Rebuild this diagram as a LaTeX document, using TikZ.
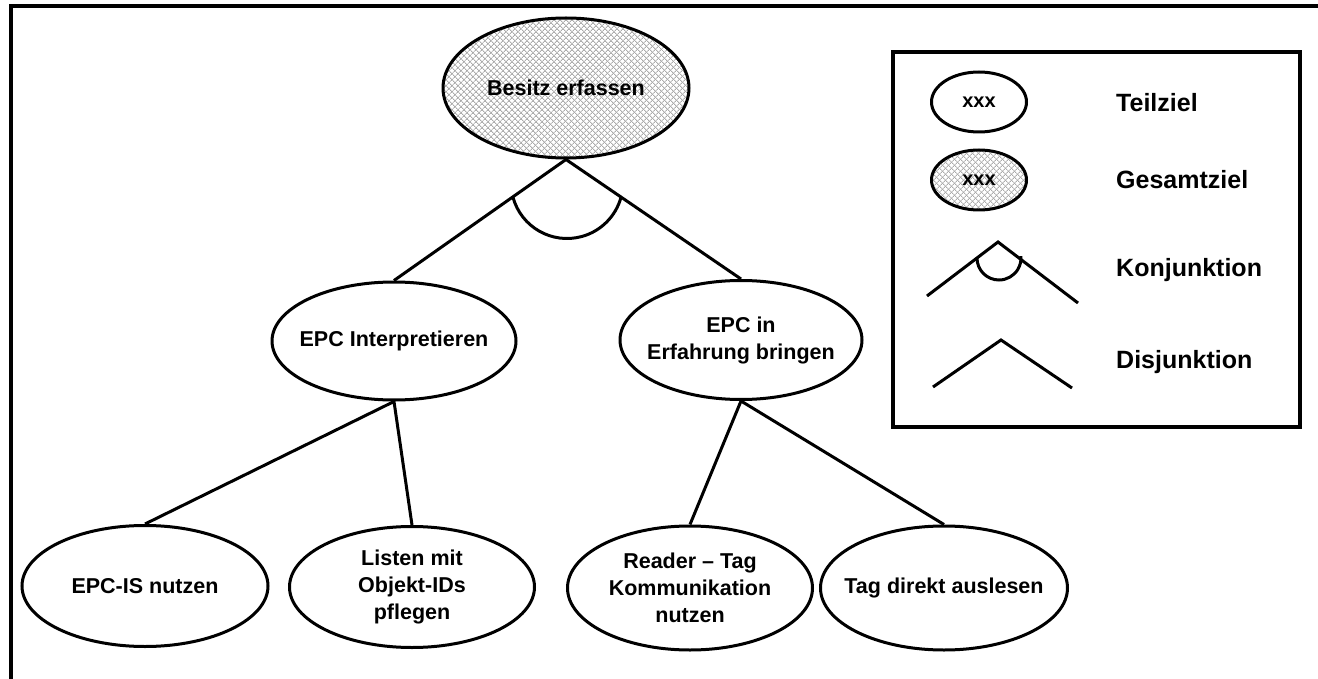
\documentclass[tikz,border=0pt]{standalone}
\usepackage{fontspec}
\setmainfont{Liberation Sans}
\usetikzlibrary{shapes.geometric,patterns.meta,calc}
\begin{document}
\begin{tikzpicture}[x=1pt,y=-1pt,
  goal/.style={ellipse,draw,line width=3pt,fill=white,inner sep=0pt},
  goaltext/.style={align=center,inner sep=0pt,
    font=\fontsize{21.5}{27}\selectfont\bfseries},
  hatched/.style={fill=none,
    preaction={fill=white},
    preaction={pattern={Lines[angle=45,distance=4pt,line width=1pt]},pattern color=gray!65},
    preaction={pattern={Lines[angle=-45,distance=4pt,line width=1pt]},pattern color=gray!65}},
  link/.style={line width=3pt},
  legendgoal/.style={goal,minimum width=95pt,minimum height=60pt},
  legendxxx/.style={inner sep=0pt,font=\fontsize{20}{24}\selectfont\bfseries},
  legendtext/.style={anchor=west,inner sep=0pt,font=\fontsize{25}{30}\selectfont\bfseries}]

\useasboundingbox (0,0) rectangle (1318,679);

% outer frame (top and left edges)
\coordinate (fbl) at (11,679);
\coordinate (ftl) at (11,6);
\coordinate (ftr) at (1318,6);
\draw[line width=3.5pt] (fbl) -- (ftl) -- (ftr);

% goal tree
\node[goal,hatched,minimum width=246pt,minimum height=140pt,
  label={[goaltext]center:Besitz erfassen}] (n0) at (566,88) {};
\node[goal,minimum width=244pt,minimum height=118pt,
  label={[goaltext]center:EPC Interpretieren}] (n1) at (394,341) {};
\node[goal,minimum width=242pt,minimum height=119pt,
  label={[goaltext]center:{EPC in\\Erfahrung bringen}}] (n2) at (741,340) {};
\node[goal,minimum width=246pt,minimum height=121pt,
  label={[goaltext]center:EPC-IS nutzen}] (n11) at (145,586) {};
\node[goal,minimum width=245pt,minimum height=121pt,
  label={[goaltext]center:{Listen mit\\Objekt-IDs\\pflegen}}] (n12) at (412,587) {};
\node[goal,minimum width=245pt,minimum height=124pt,
  label={[goaltext]center:{Reader -- Tag\\Kommunikation\\nutzen}}] (n21) at (690,588) {};
\node[goal,minimum width=247pt,minimum height=124pt,
  label={[goaltext]center:Tag direkt auslesen}] (n22) at (944,588) {};

\draw[link] (n1.north) -- (n0.south) -- (n2.north);
\draw[link] (n11.north) -- (n1.south) -- (n12.north);
\draw[link] (n21.north) -- (n2.south) -- (n22.north);

% conjunction arc below the top goal
\coordinate (c0) at ($(n0.south)+(1,23)$);
\draw[link] ($(c0)+(164.5:56)$) arc[start angle=164.5,end angle=15.5,radius=56];

% legend
\draw[line width=3.5pt] (893,52) rectangle (1300,427);
\node[legendgoal,label={[legendxxx]center:xxx}] (lt) at (979,102) {};
\node[legendgoal,hatched,label={[legendxxx]center:xxx}] (lg) at (979,180) {};
\node[legendtext] (lt-text) at (1116,103) {Teilziel};
\node[legendtext] (lg-text) at (1116,180) {Gesamtziel};
\node[legendtext] (lk-text) at (1116,270) {Konjunktion};
\node[legendtext] (ld-text) at (1116,362) {Disjunktion};

% conjunction symbol
\coordinate (ka) at (998,242);
\coordinate (kl) at (927,296);
\coordinate (kr) at (1078,303);
\draw[link] (kl) -- (ka) -- (kr);
\coordinate (kc) at (999,258);
\draw[link] ($(kc)+(180:22)$) arc[start angle=180,end angle=-5,radius=22];

% disjunction symbol
\coordinate (da) at (1001,340);
\coordinate (dl) at (933,387);
\coordinate (dr) at (1072,388);
\draw[link] (dl) -- (da) -- (dr);
\end{tikzpicture}
\end{document}
